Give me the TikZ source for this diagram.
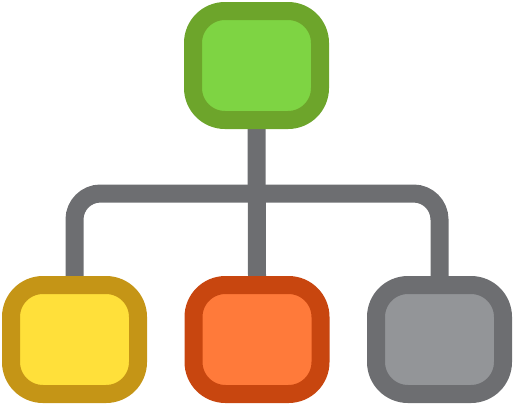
\documentclass[tikz,border=0pt]{standalone}
\usetikzlibrary{backgrounds}
\definecolor{lineGray}{HTML}{6D6E71}
\definecolor{gOut}{HTML}{6DA52B}
\definecolor{gIn}{HTML}{7ED443}
\definecolor{yOut}{HTML}{C59516}
\definecolor{yIn}{HTML}{FFE03A}
\definecolor{oOut}{HTML}{C8460F}
\definecolor{oIn}{HTML}{FF7A3A}
\definecolor{sOut}{HTML}{6D6E71}
\definecolor{sIn}{HTML}{939598}
\begin{document}
\begin{tikzpicture}[x=1pt,y=-1pt,
  box/.style={draw=#1, line width=18pt, rounded corners=32pt,
    minimum width=127pt, minimum height=109pt, inner sep=0pt},
  conn/.style={draw=lineGray, line width=18pt, rounded corners=26pt}]
\useasboundingbox (0,0) rectangle (513,405);
\node[box=gOut, fill=gIn] (top) at (256.5,65.5) {};
\node[box=yOut, fill=yIn] (left) at (74.5,339.5) {};
\node[box=oOut, fill=oIn] (mid) at (257,339.5) {};
\node[box=sOut, fill=sIn] (right) at (439.5,339.5) {};
\coordinate (hub) at (257,193.5);
\begin{pgfonlayer}{background}
\draw[conn] (top.south) -- (mid.north);
\draw[conn] (left.north) |- (hub) -| (right.north);
\end{pgfonlayer}
\end{tikzpicture}
\end{document}
